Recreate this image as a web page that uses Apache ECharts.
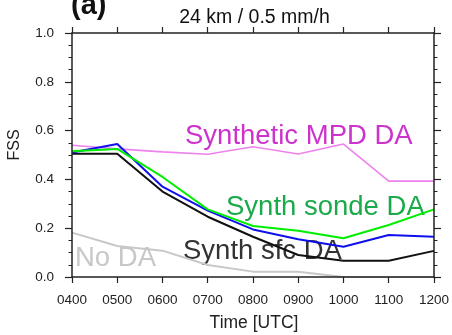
<!DOCTYPE html>
<html>
<head>
<meta charset="utf-8">
<script src="https://cdn.jsdelivr.net/npm/echarts@6/dist/echarts.min.js"></script>
<style>html,body{margin:0;padding:0;background:#fff}#c{width:452px;height:335px}</style>
</head>
<body>
<div id="c"></div>
<script>
var times = ['0400','0500','0600','0700','0800','0900','1000','1100','1200'];
var mpdDA   = [0.54, 0.525, 0.513, 0.503, 0.534, 0.504, 0.545, 0.393, 0.393];
var sondeDA = [0.515, 0.525, 0.41, 0.277, 0.209, 0.19, 0.159, 0.213, 0.277];
var allDA   = [0.51, 0.545, 0.37, 0.272, 0.195, 0.155, 0.124, 0.172, 0.165];
var sfcDA   = [0.505, 0.505, 0.35, 0.247, 0.165, 0.09, 0.067, 0.067, 0.107];
var noDA    = [0.182, 0.127, 0.108, 0.049, 0.022, 0.022, 0.0, 0.0, 0.0];
var yTicks  = [0, 0.2, 0.4, 0.6, 0.8, 1.0];

var FONT = '"Liberation Sans", Arial, sans-serif';
var AX = '#222';
var chart = echarts.init(document.getElementById('c'), null, {renderer: 'canvas'});

function xAx(pos, showLabel) {
  return {
    type: 'category', data: times, boundaryGap: false, position: pos, z: 10,
    axisLine: {show: true, onZero: false, lineStyle: {color: AX, width: 1.5}},
    axisTick: {show: true, length: 6, alignWithLabel: true, lineStyle: {color: AX, width: 1.2}},
    axisLabel: {show: showLabel, color: '#222', fontFamily: FONT, fontSize: 13.5, margin: 16},
    splitLine: {show: false}
  };
}
function yAx(pos, showLabel) {
  return {
    type: 'value', min: 0, max: 1, interval: 0.2, position: pos, z: 10,
    axisLine: {show: true, lineStyle: {color: AX, width: 1.5}},
    axisTick: {show: true, length: 7, lineStyle: {color: AX, width: 1.2}},
    minorTick: {show: true, splitNumber: 4, length: 3.5, lineStyle: {color: AX, width: 1}},
    axisLabel: {show: showLabel, color: '#222', fontFamily: FONT, fontSize: 13.5, margin: 18,
      formatter: function (v) { return v.toFixed(1); }},
    splitLine: {show: false}
  };
}
function line(data, color, width) {
  return {type: 'line', data: data, symbol: 'none', smooth: false, z: 2,
    lineStyle: {color: color, width: width}, emphasis: {disabled: true}};
}

chart.setOption({
  animation: false,
  grid: {left: 72, right: 17, top: 33, bottom: 58},
  xAxis: [xAx('bottom', true), xAx('top', false)],
  yAxis: [yAx('left', true), yAx('right', false)],
  series: [
    line(noDA, '#c8c8c8', 2),
    line(mpdDA, '#ee82ee', 1.6),
    line(sfcDA, '#111111', 2),
    line(allDA, '#1010ee', 2),
    line(sondeDA, '#00ee00', 2)
  ],
  graphic: [
    {type: 'text', x: 71, y: 6, style: {text: '(a)', fontFamily: FONT, fontSize: 29, fontWeight: 'bold', fill: '#111', align: 'left', verticalAlign: 'middle'}},
    {type: 'text', x: 254.5, y: 18, style: {text: '24 km / 0.5 mm/h', fontFamily: FONT, fontSize: 19.5, fill: '#111', align: 'center', verticalAlign: 'middle'}},
    {type: 'text', x: 254, y: 323, style: {text: 'Time [UTC]', fontFamily: FONT, fontSize: 17.5, fill: '#222', align: 'center', verticalAlign: 'middle'}},
    {type: 'text', x: 15, y: 145, rotation: Math.PI / 2, style: {text: 'FSS', fontFamily: FONT, fontSize: 16, fill: '#222', align: 'center', verticalAlign: 'middle'}},
    {type: 'text', x: 185, y: 136.5, style: {text: 'Synthetic MPD DA', fontFamily: FONT, fontSize: 27.5, fill: '#cc33cc', align: 'left', verticalAlign: 'middle'}},
    {type: 'text', x: 226, y: 207.5, style: {text: 'Synth sonde DA', fontFamily: FONT, fontSize: 27.5, fill: '#1aaa4a', align: 'left', verticalAlign: 'middle'}},
    {type: 'text', x: 183, y: 251.5, style: {text: 'Synth sfc DA', fontFamily: FONT, fontSize: 27.5, fill: '#333333', align: 'left', verticalAlign: 'middle'}},
    {type: 'text', x: 75, y: 258, style: {text: 'No DA', fontFamily: FONT, fontSize: 27.5, fill: '#c8c8c8', align: 'left', verticalAlign: 'middle'}}
  ]
});
</script>
</body>
</html>
